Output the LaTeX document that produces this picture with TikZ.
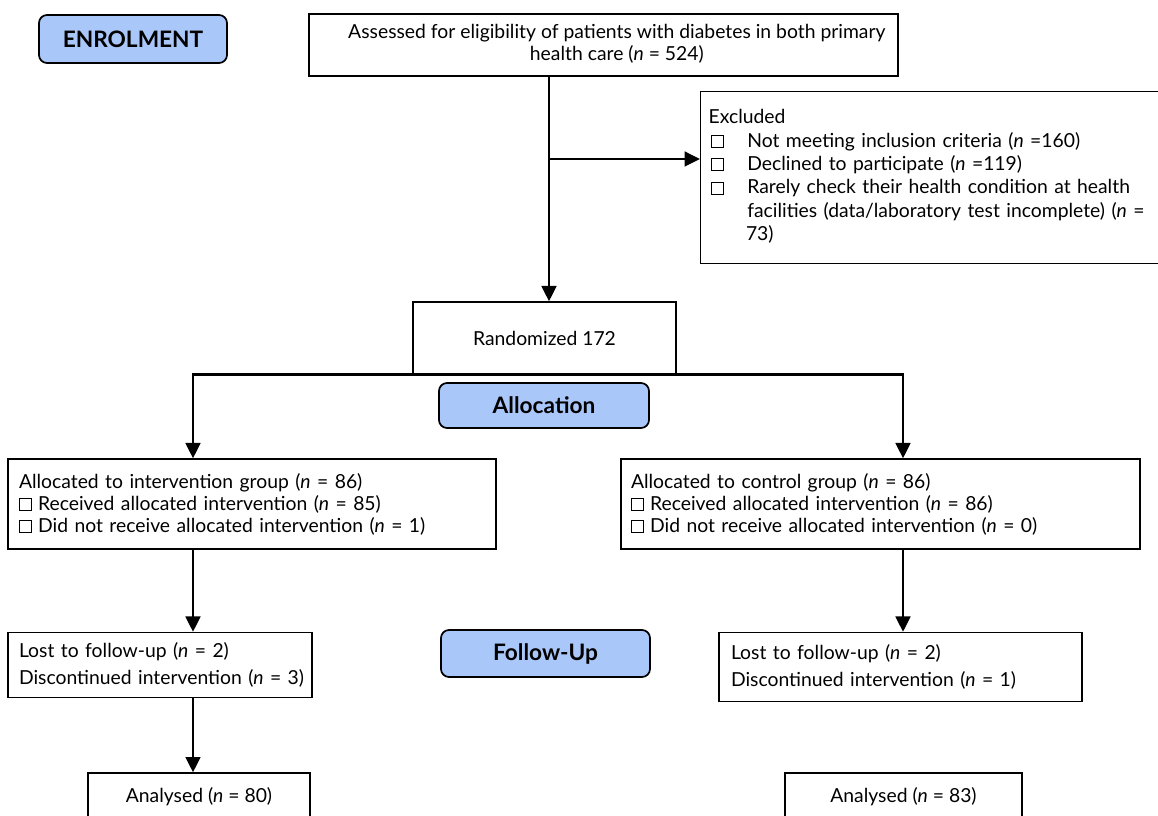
\documentclass[tikz,border=0pt]{standalone}
\usepackage{fontspec}
\setmainfont{Lato}
\usetikzlibrary{arrows.meta}
\definecolor{stageblue}{RGB}{170,199,250}
\newcommand{\chkbox}{{\fboxsep=0pt\fboxrule=0.5pt\fbox{\rule{0pt}{8.5pt}\rule{8.5pt}{0pt}}}}
\tikzset{
  flowbox/.style 2 args={draw, line width=1pt, fill=white, inner sep=0pt,
    minimum width=#1*0.75pt, minimum height=#2*0.75pt,
    font=\fontsize{14.5}{16.5}\selectfont},
  txt/.style={text width=#1*0.75pt, align=left},
  stage/.style 2 args={draw, line width=1.3pt, rounded corners=6pt, fill=stageblue,
    minimum width=#1*0.75pt, minimum height=#2*0.75pt, inner sep=0pt,
    font=\bfseries\fontsize{17}{19}\selectfont},
  link/.style={line width=1.8pt}
}
\begin{document}
\begin{tikzpicture}[x=0.75pt, y=-0.75pt, >={Triangle[length=11.5pt,width=11pt]}]
\useasboundingbox (0,0) rectangle (1158,816);
\clip (0,0) rectangle (1158,816);

\coordinate (ccol) at (549,0);
\coordinate (lcol) at (193,0);
\coordinate (rcol) at (903,0);
\coordinate (split) at (549,159);

\node[stage={188}{48}] (enrol) at (133,39) {ENROLMENT};
\node[flowbox={589}{62}] (assess) at (603.5,45)
  {\hspace*{20pt}\begin{tabular}{@{}c@{}}Assessed for eligibility of patients with diabetes in both primary\\health care (\textit{n} = 524)\end{tabular}};
\node[flowbox={480}{172}, txt=464, anchor=north west,
  font=\fontsize{14.5}{17.5}\selectfont] (excl) at (700,91)
  {Excluded\\
   \hspace*{2pt}\chkbox\hspace{17.5pt}Not meeting inclusion criteria (\textit{n} =160)\\
   \hspace*{2pt}\chkbox\hspace{17.5pt}Declined to participate (\textit{n} =119)\\
   \hspace*{2pt}\chkbox\hspace{17.5pt}Rarely check their health condition at health\\
   \hspace*{29pt}\mbox{facilities (data/laboratory test incomplete) (\textit{n} =}\\
   \hspace*{28pt}73)\par\kern 2pt};
\node[flowbox={263}{72}] (rand) at (544.5,338) {Randomized 172};
\node[stage={210}{45}] (alloc) at (544,405.5) {Allocation};

\node[flowbox={488}{90}, txt=466] (intv) at (252,504)
  {Allocated to intervention group (\textit{n} = 86)\\
   \chkbox{} Received allocated intervention (\textit{n} = 85)\\
   \chkbox{} Did not receive allocated intervention (\textit{n} = 1)};
\node[flowbox={519}{90}, txt=499] (ctrl) at (880.5,504)
  {Allocated to control group (\textit{n} = 86)\\
   \chkbox{} Received allocated intervention (\textit{n} = 86)\\
   \chkbox{} Did not receive allocated intervention (\textit{n} = 0)};

\node[flowbox={304}{65}, txt=282, font=\fontsize{14.5}{20.25}\selectfont] (fu1) at (160,665)
  {Lost to follow-up (\textit{n} = 2)\\\mbox{Discontinued intervention (\textit{n} = 3)}};
\node[stage={209}{47}] (fustage) at (545.5,653.5) {Follow-Up};
\node[flowbox={363}{69}, txt=339, font=\fontsize{14.5}{20.25}\selectfont] (fu2) at (900.5,667)
  {Lost to follow-up (\textit{n} = 2)\\Discontinued intervention (\textit{n} = 1)};

\node[flowbox={222}{48}] (an1) at (199,797) {Analysed (\textit{n} = 80)};
\node[flowbox={237}{48}] (an2) at (903.5,797) {Analysed (\textit{n} = 83)};

\draw[link, ->] (assess.south -| ccol) -- (rand.north -| ccol);
\draw[link, ->] (split) -- (split -| excl.west);
\draw[link, ->] (rand.south) -| (lcol |- intv.north);
\draw[link, ->] (rand.south) -| (rcol |- ctrl.north);
\draw[link, ->] (lcol |- intv.south) -- (lcol |- fu1.north);
\draw[link, ->] (rcol |- ctrl.south) -- (rcol |- fu2.north);
\draw[link, ->] (lcol |- fu1.south) -- (lcol |- an1.north);
\end{tikzpicture}
\end{document}
